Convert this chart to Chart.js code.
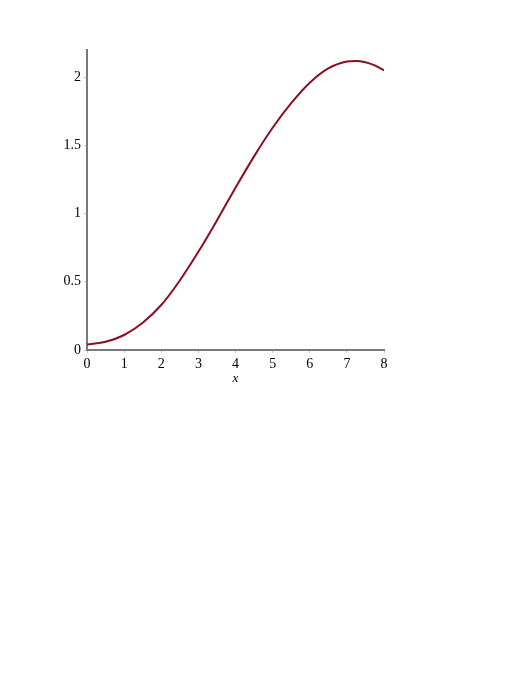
<!DOCTYPE html>
<html>
<head>
<meta charset="utf-8">
<script src="https://cdn.jsdelivr.net/npm/chart.js@4/dist/chart.umd.min.js"></script>
<style>
  html, body { margin: 0; padding: 0; background: #fff; }
  #wrap { width: 523px; height: 676px; }
</style>
</head>
<body>
<div id="wrap"><canvas id="plot" width="523" height="676"></canvas></div>
<script>
  // curve samples
  var xValues = [0, 0.5, 1, 1.5, 2, 2.5, 3, 3.5, 4, 4.5, 5, 5.5, 6, 6.5, 7, 7.25, 7.5, 7.75, 8];
  var yValues = [0.04, 0.06, 0.11, 0.2, 0.33, 0.51, 0.72, 0.95, 1.19, 1.42, 1.63, 1.81, 1.96, 2.065, 2.115, 2.12, 2.11, 2.087, 2.05];
  var yTickValues = [0, 0.5, 1, 1.5, 2];
  var xTickValues = [0, 1, 2, 3, 4, 5, 6, 7, 8];

  var points = xValues.map(function (x, i) {
    return { x: x, y: yValues[i] };
  });

  var serif = "'Liberation Serif', 'DejaVu Serif', serif";

  var ctx = document.getElementById('plot').getContext('2d');
  var plot = new Chart(ctx, {
    type: 'scatter',
    data: {
      datasets: [{
        data: points,
        showLine: true,
        borderColor: '#870f23',
        borderWidth: 2,
        pointRadius: 0,
        cubicInterpolationMode: 'monotone',
        fill: false
      }]
    },
    options: {
      responsive: false,
      animation: false,
      layout: { padding: { left: 0, right: 139, top: 50, bottom: 290 } },
      plugins: { legend: { display: false }, tooltip: { enabled: false } },
      scales: {
        x: {
          type: 'linear',
          min: 0,
          max: 8,
          afterBuildTicks: function (scale) {
            scale.ticks = xTickValues.map(function (v) { return { value: v }; });
          },
          afterFit: function (scale) { scale.height = 36; },
          border: { display: true, color: '#7a7a7a', width: 2 },
          grid: { drawOnChartArea: false, drawTicks: true, tickLength: 3, color: '#c8c8c8' },
          ticks: {
            color: '#000',
            padding: 3,
            maxRotation: 0,
            font: { family: serif, size: 14 },
            callback: function (v) { return String(v); }
          },
          title: {
            display: true,
            text: 'x',
            color: '#000',
            padding: { top: 0, bottom: 0 },
            font: { family: serif, size: 13, style: 'italic' }
          }
        },
        y: {
          type: 'linear',
          min: 0,
          max: 2.2,
          afterBuildTicks: function (scale) {
            scale.ticks = yTickValues.map(function (v) { return { value: v }; });
          },
          afterFit: function (scale) { scale.width = 87; },
          border: { display: true, color: '#7a7a7a', width: 2 },
          grid: { drawOnChartArea: false, drawTicks: true, tickLength: 3, color: '#c8c8c8' },
          ticks: {
            color: '#000',
            padding: 3,
            font: { family: serif, size: 14 },
            callback: function (v) { return String(v); }
          }
        }
      }
    }
  });
</script>
</body>
</html>
